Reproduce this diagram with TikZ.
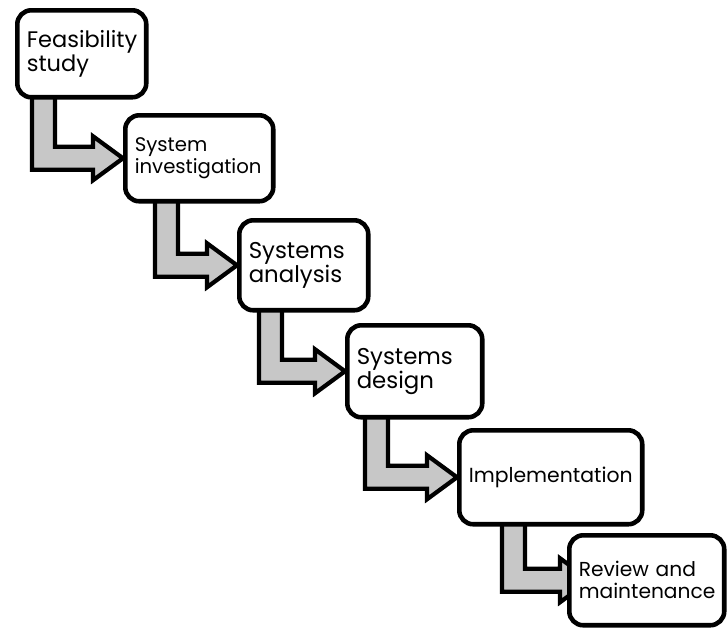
\documentclass[tikz,border=0pt]{standalone}
\usepackage{fontspec}
\setmainfont{Poppins}
\usetikzlibrary{calc,backgrounds}

\tikzset{
  stage/.style={draw, line width=2.6pt, rounded corners=0.28cm, fill=white,
    anchor=north west, align=left, inner xsep=0.19cm, inner ysep=0pt},
  flow/.style={draw, line width=2.4pt, fill=black!22, line join=miter},
}

\begin{document}
\begin{tikzpicture}[x=0.02cm, y=-0.02cm]
\useasboundingbox (0,0) rectangle (728,629);

% Stage boxes
\node[stage, minimum width=2.58cm, minimum height=1.74cm, text width=2.20cm,
  font=\fontsize{12.8}{13.6}\selectfont] (feas) at (15,8) {Feasibility\\study};
\node[stage, minimum width=2.96cm, minimum height=1.72cm, text width=2.58cm,
  font=\fontsize{11.2}{12.5}\selectfont] (inv) at (123,113) {System\\investigation};
\node[stage, minimum width=2.58cm, minimum height=1.80cm, text width=2.20cm,
  font=\fontsize{13}{13.8}\selectfont] (ana) at (237,218) {Systems\\analysis};
\node[stage, minimum width=2.70cm, minimum height=1.84cm, text width=2.32cm,
  font=\fontsize{13}{13.8}\selectfont] (des) at (345,323) {Systems\\design};
\node[stage, minimum width=3.66cm, minimum height=1.88cm, text width=3.28cm,
  font=\fontsize{11.6}{12.5}\selectfont] (impl) at (457,428) {Implementation};
\node[stage, minimum width=3.10cm, minimum height=1.80cm, text width=2.72cm,
  font=\fontsize{11.5}{12.5}\selectfont] (rev) at (567,533) {Review and\\maintenance};

\begin{pgfonlayer}{background}
% Drawing arrow feas inv
\draw[flow] ($(feas.south west)+(17,-3)$) |- ($(inv.west)+(-30,11.5)$) -- ++(0,10.5)
  -- (inv.west) -- ++(-30,-22) -- ++(0,10.5) -| ($(feas.south west)+(40,-3)$) -- cycle;

% Drawing arrow inv ana
\draw[flow] ($(inv.south west)+(32,-3)$) |- ($(ana.west)+(-30,11.5)$) -- ++(0,10.5)
  -- (ana.west) -- ++(-30,-22) -- ++(0,10.5) -| ($(inv.south west)+(55,-3)$) -- cycle;

% Drawing arrow ana des
\draw[flow] ($(ana.south west)+(22,-3)$) |- ($(des.west)+(-30,11.5)$) -- ++(0,10.5)
  -- (des.west) -- ++(-30,-22) -- ++(0,10.5) -| ($(ana.south west)+(45,-3)$) -- cycle;

% Drawing arrow des impl
\draw[flow] ($(des.south west)+(20,-3)$) |- ($(impl.west)+(-30,11.5)$) -- ++(0,10.5)
  -- (impl.west) -- ++(-30,-22) -- ++(0,10.5) -| ($(des.south west)+(43,-3)$) -- cycle;

% Drawing arrow impl rev (head mostly hidden behind the box)
\draw[flow] ($(impl.south west)+(45,-3)$) |- ($(rev.west)+(-7,11.5)$) -- ++(0,10.5)
  -- ($(rev.west)+(23,0)$) -- ++(-30,-22) -- ++(0,10.5) -| ($(impl.south west)+(68,-3)$) -- cycle;
\end{pgfonlayer}
\end{tikzpicture}
\end{document}
